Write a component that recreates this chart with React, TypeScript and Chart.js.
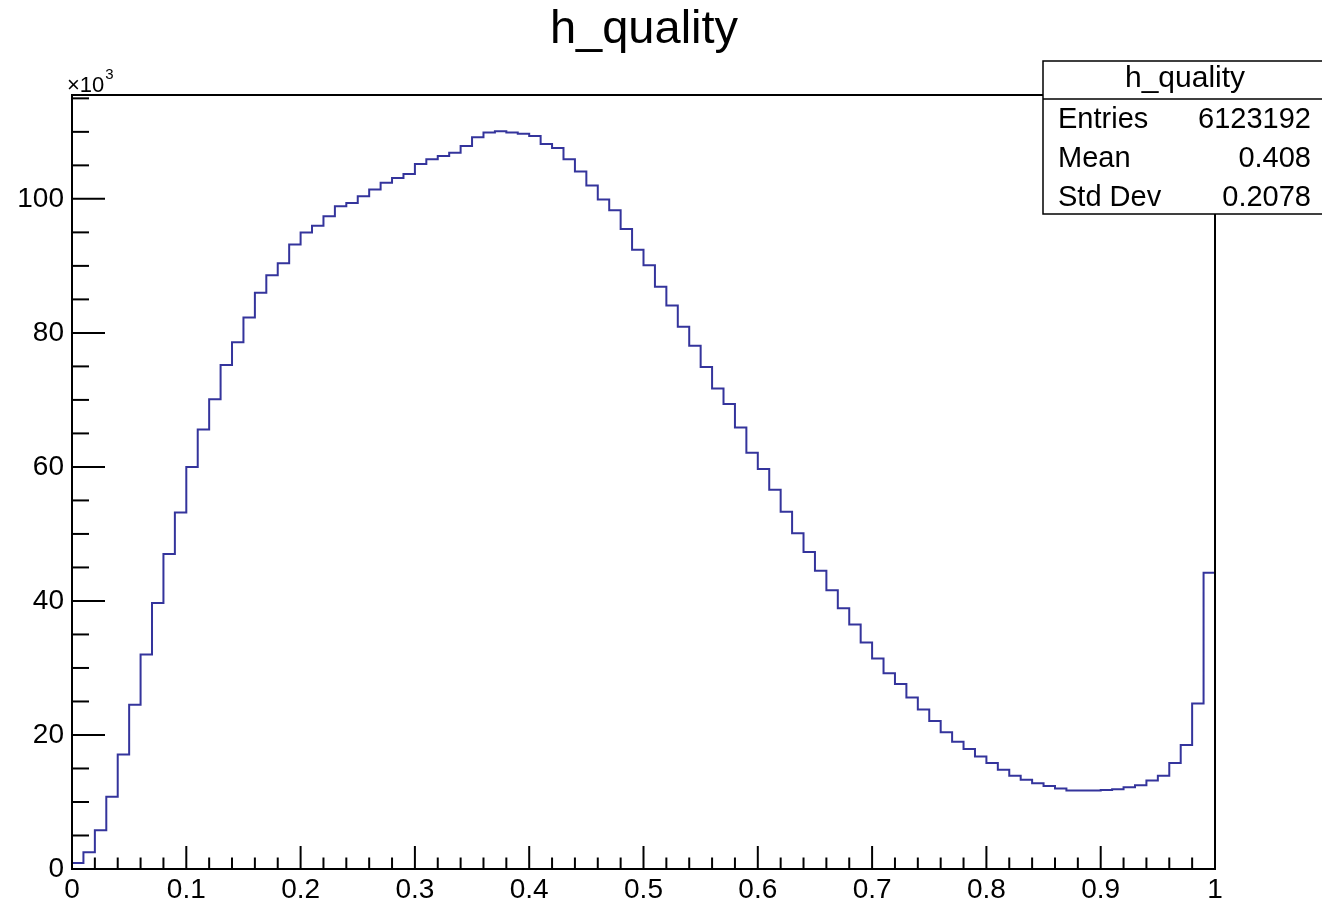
import React, { useEffect, useRef } from "react";
import { Chart, registerables } from "chart.js";

Chart.register(...registerables);

// ---------- data ----------
const chartTitle = "h_quality";
const xRangeMin = 0;
const xRangeMax = 1;
// bin contents in units of 10^3 (100 bins over [0, 1])
const counts = [
  0.9, 2.5, 5.8, 10.8, 17.1, 24.5, 32.0, 39.7, 47.0, 53.2,
  60.0, 65.6, 70.1, 75.2, 78.6, 82.3, 86.0, 88.6, 90.4, 93.2,
  95.0, 96.0, 97.4, 98.9, 99.4, 100.4, 101.4, 102.4, 103.1, 103.7,
  105.2, 105.9, 106.4, 106.9, 107.9, 109.2, 109.9, 110.1, 109.9, 109.7,
  109.4, 108.2, 107.6, 105.9, 104.1, 102.0, 99.9, 98.3, 95.5, 92.4,
  90.1, 86.9, 84.1, 80.9, 78.1, 74.9, 71.7, 69.4, 65.9, 62.1,
  59.7, 56.6, 53.3, 50.1, 47.3, 44.5, 41.6, 38.9, 36.5, 33.8,
  31.4, 29.2, 27.6, 25.6, 23.8, 22.1, 20.4, 19.0, 17.9, 16.8,
  15.8, 14.8, 13.9, 13.3, 12.8, 12.4, 12.0, 11.7, 11.7, 11.7,
  11.8, 11.9, 12.2, 12.5, 13.2, 13.9, 15.8, 18.5, 24.7, 44.2,
];
const xTickValues = [0, 0.1, 0.2, 0.3, 0.4, 0.5, 0.6, 0.7, 0.8, 0.9, 1];
const yTickValues = [0, 20, 40, 60, 80, 100];
const yAxisMax = 115.5;
const yExponent = "3";
const statsName = "h_quality";
const statsLabels = ["Entries", "Mean", "Std Dev"];
const statsValues = ["6123192", "0.408", "0.2078"];

const FONT = '"Liberation Sans", Arial, Helvetica, sans-serif';
const LINE_COLOR = "#34349c";

const rootStylePlugin = {
  id: "rootStyle",
  afterDraw(chart: any) {
    const { ctx, chartArea: a, scales } = chart;
    const x = scales.x;
    const y = scales.y;
    ctx.save();
    ctx.strokeStyle = "#000";
    ctx.lineWidth = 2;
    const line = (x1: number, y1: number, x2: number, y2: number) => {
      ctx.beginPath();
      ctx.moveTo(x1, y1);
      ctx.lineTo(x2, y2);
      ctx.stroke();
    };
    // title
    ctx.fillStyle = "#000";
    ctx.font = `47px ${FONT}`;
    ctx.textAlign = "center";
    ctx.textBaseline = "middle";
    ctx.fillText(chartTitle, 644, 30);

    // frame (top + right)
    line(a.left, a.top, a.right, a.top);
    line(a.right, a.top, a.right, a.bottom);
    // x ticks (inside, pointing up)
    for (let i = 0; i <= 50; i++) {
      const v = i * 0.02;
      const px = x.getPixelForValue(v);
      const len = i % 5 === 0 ? 23 : 11.5;
      line(px, a.bottom, px, a.bottom - len);
    }
    // y ticks (inside, pointing right)
    for (let i = 0; i * 5 <= yAxisMax; i++) {
      const py = y.getPixelForValue(i * 5);
      const len = i % 4 === 0 ? 33 : 17;
      line(a.left, py, a.left + len, py);
    }
    // exponent label
    ctx.fillStyle = "#000";
    ctx.textBaseline = "alphabetic";
    ctx.textAlign = "left";
    ctx.font = `22px ${FONT}`;
    ctx.fillText("\u00d710", a.left - 5, a.top - 3);
    const w = ctx.measureText("\u00d710").width;
    ctx.font = `15px ${FONT}`;
    ctx.fillText(yExponent, a.left - 5 + w + 1, a.top - 16);

    // stats box
    const bx = 1043, by = 61, bw = 1322 - 1043 + 2, bh = 153;
    const sep = 99;
    ctx.fillStyle = "#fff";
    ctx.fillRect(bx, by, bw, bh);
    ctx.lineWidth = 1.5;
    ctx.strokeRect(bx, by, bw, bh);
    line(bx, sep, bx + bw, sep);
    ctx.fillStyle = "#000";
    ctx.font = `30px ${FONT}`;
    ctx.textAlign = "center";
    ctx.textBaseline = "middle";
    ctx.fillText(statsName, 1185, 79);
    ctx.font = `29px ${FONT}`;
    const rowY = [120, 159, 198];
    statsLabels.forEach((lab, i) => {
      ctx.textAlign = "left";
      ctx.fillText(lab, 1058, rowY[i]);
      ctx.textAlign = "right";
      ctx.fillText(statsValues[i], 1311, rowY[i]);
    });
    ctx.restore();
  },
};

export default function App() {
  const ref = useRef<HTMLCanvasElement | null>(null);

  useEffect(() => {
    if (!ref.current) return;
    const nBins = counts.length;
    const bw = (xRangeMax - xRangeMin) / nBins;
    const points = counts.map((c, i) => ({ x: xRangeMin + i * bw, y: c }));
    points.push({ x: xRangeMax, y: counts[nBins - 1] });

    const chart = new Chart(ref.current, {
      type: "line",
      data: {
        datasets: [
          {
            label: chartTitle,
            data: points,
            stepped: "before",
            borderColor: LINE_COLOR,
            borderWidth: 2,
            pointRadius: 0,
            fill: false,
          } as any,
        ],
      },
      options: {
        animation: false,
        responsive: false,
        events: [],
        layout: { padding: { left: 0, right: 107, top: 95, bottom: 0 } },
        plugins: {
          legend: { display: false },
          tooltip: { enabled: false },
          title: { display: false },
        },
        scales: {
          x: {
            type: "linear",
            min: xRangeMin,
            max: xRangeMax,
            afterFit: (s: any) => {
              s.height = 36;
            },
            afterBuildTicks: (s: any) => {
              s.ticks = xTickValues.map((v) => ({ value: v }));
            },
            grid: { display: false, drawTicks: false },
            border: { display: true, color: "#000", width: 2 },
            ticks: {
              padding: 4,
              color: "#000",
              maxRotation: 0,
              autoSkip: false,
              font: { family: FONT, size: 28 },
              callback: (v: any) => String(Number(Number(v).toFixed(2))),
            },
          },
          y: {
            type: "linear",
            min: 0,
            max: yAxisMax,
            afterFit: (s: any) => {
              s.width = 72;
            },
            afterBuildTicks: (s: any) => {
              s.ticks = yTickValues.map((v) => ({ value: v }));
            },
            grid: { display: false, drawTicks: false },
            border: { display: true, color: "#000", width: 2 },
            ticks: {
              padding: 8,
              color: "#000",
              autoSkip: false,
              font: { family: FONT, size: 28 },
              callback: (v: any) => String(v),
            },
          },
        },
      },
      plugins: [rootStylePlugin],
    });
    return () => chart.destroy();
  }, []);

  return (
    <div
      style={{
        position: "absolute",
        left: 0,
        top: 0,
        width: 1322,
        height: 905,
        background: "#fff",
        overflow: "hidden",
      }}
    >
      <canvas ref={ref} width={1322} height={905} />
    </div>
  );
}
